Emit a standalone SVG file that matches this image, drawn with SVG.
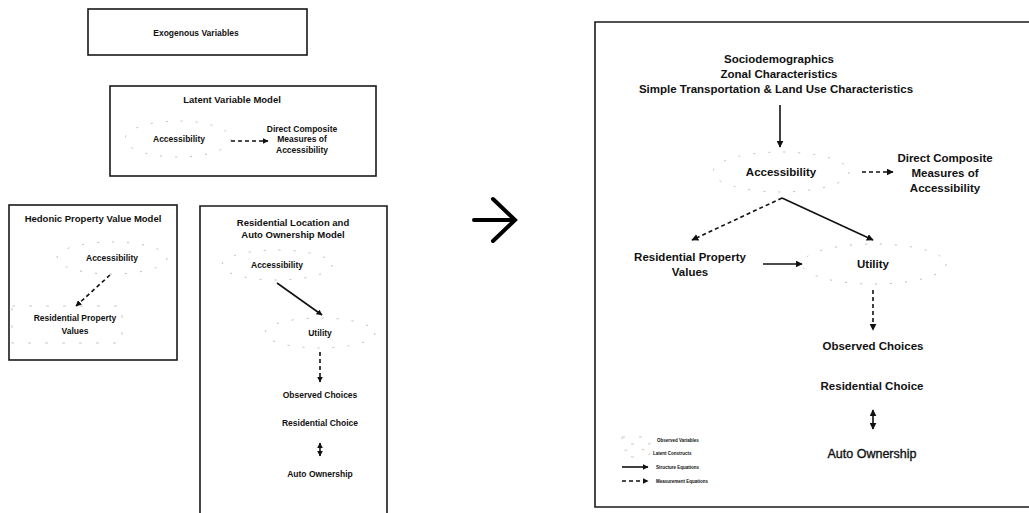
<svg xmlns="http://www.w3.org/2000/svg" width="1029" height="513" viewBox="0 0 1029 513">
<defs>
<style>
text{font-family:"Liberation Sans",Arial,sans-serif;font-weight:bold;fill:#111;text-anchor:middle}
.s{font-size:8.5px}
.t{font-size:9.5px}
.r{font-size:11.5px}
.lg{font-size:4.5px;text-anchor:start}
.box{fill:none;stroke:#1a1a1a;stroke-width:1.6}
.ell{fill:none;stroke:#aaa;stroke-width:0.8;stroke-dasharray:2 13}
.faint{fill:none;stroke:#bbb;stroke-width:0.8;stroke-dasharray:3 14}
.sol{fill:none;stroke:#111;stroke-width:1.6}
.dsh{fill:none;stroke:#111;stroke-width:1.6;stroke-dasharray:4 3}
.big{fill:none;stroke:#000;stroke-width:4;stroke-linecap:round;stroke-linejoin:miter}
</style>
<marker id="ah" viewBox="0 0 10 10" refX="9" refY="5" markerWidth="7" markerHeight="7" markerUnits="userSpaceOnUse" orient="auto-start-reverse">
<path d="M0,0 L10,5 L0,10 z" fill="#111"/>
</marker>
<marker id="ahs" viewBox="0 0 10 10" refX="9" refY="5" markerWidth="6" markerHeight="6" markerUnits="userSpaceOnUse" orient="auto-start-reverse">
<path d="M0,0 L10,5 L0,10 z" fill="#111"/>
</marker>
</defs>
<rect width="1029" height="513" fill="#fff"/>

<!-- Left panels -->
<g id="exogenous">
<rect class="box" x="88" y="9" width="219" height="46"/>
<text class="s" x="196" y="36">Exogenous Variables</text>
</g>

<g id="latent-model">
<rect class="box" x="110" y="86" width="266" height="90"/>
<text class="t" x="232" y="103">Latent Variable Model</text>
<g id="lv-accessibility">
<ellipse class="ell" cx="178" cy="139" rx="53" ry="18"/>
<text class="s" x="179" y="142">Accessibility</text>
</g>
<g id="lv-direct">
<text class="s" x="302" y="132">Direct Composite</text>
<text class="s" x="302" y="142">Measures of</text>
<text class="s" x="302" y="153">Accessibility</text>
</g>
</g>

<g id="hedonic-model">
<rect class="box" x="9" y="205" width="168" height="155"/>
<text class="t" x="93" y="222">Hedonic Property Value Model</text>
<g id="hp-accessibility">
<ellipse class="ell" cx="112" cy="258" rx="55" ry="16"/>
<text class="s" x="112" y="261">Accessibility</text>
</g>
<g id="hp-values">
<rect class="faint" x="12" y="306" width="110" height="37"/>
<text class="s" x="75" y="321">Residential Property</text>
<text class="s" x="75" y="334">Values</text>
</g>
</g>

<g id="resloc-model">
<path class="box" d="M200,520 L200,206 L387,206 L387,520"/>
<text class="t" x="293" y="226">Residential Location and</text>
<text class="t" x="293" y="238">Auto Ownership Model</text>
<g id="rl-accessibility">
<ellipse class="ell" cx="277" cy="265" rx="55" ry="15"/>
<text class="s" x="277" y="268">Accessibility</text>
</g>
<g id="rl-utility">
<ellipse class="ell" cx="320" cy="333" rx="55" ry="15"/>
<text class="s" x="320" y="336">Utility</text>
</g>
<g id="rl-observed"><text class="s" x="320" y="398">Observed Choices</text></g>
<g id="rl-residential"><text class="s" x="320" y="426">Residential Choice</text></g>
<g id="rl-auto"><text class="s" x="320" y="477">Auto Ownership</text></g>
</g>

<!-- Big transition arrow -->
<g id="transition-arrow">
<line class="big" x1="474" y1="220" x2="514" y2="220"/>
<polyline class="big" points="493,199 515,220 493,241"/>
</g>

<!-- Right panel -->
<g id="integrated-model">
<path class="box" d="M1035,22 L595,22 L595,507 L1035,507"/>
</g>
<g id="exog-vars">
<text class="r" x="779" y="63">Sociodemographics</text>
<text class="r" x="779" y="78">Zonal Characteristics</text>
<text class="r" x="776" y="93">Simple Transportation &amp; Land Use Characteristics</text>
</g>
<g id="accessibility">
<ellipse class="ell" cx="781" cy="172" rx="68" ry="20"/>
<text class="r" x="781" y="176">Accessibility</text>
</g>
<g id="direct-measures">
<text class="r" x="945" y="162">Direct Composite</text>
<text class="r" x="945" y="177">Measures of</text>
<text class="r" x="945" y="192">Accessibility</text>
</g>
<g id="property-values">
<text class="r" x="690" y="261">Residential Property</text>
<text class="r" x="690" y="276">Values</text>
</g>
<g id="utility">
<ellipse class="ell" cx="874" cy="264" rx="72" ry="20"/>
<text class="r" x="873" y="268">Utility</text>
</g>
<g id="observed-choices"><text class="r" x="873" y="350">Observed Choices</text></g>
<g id="residential-choice"><text class="r" x="872" y="390">Residential Choice</text></g>
<g id="auto-ownership"><text class="r" x="872" y="458" style="font-weight:normal;font-size:12.5px;stroke:#111;stroke-width:0.35">Auto Ownership</text></g>

<g id="legend">
<rect class="faint" x="622" y="437" width="28" height="7"/>
<ellipse class="faint" cx="636" cy="453" rx="14" ry="4"/>
<text class="lg" x="657" y="442">Observed Variables</text>
<text class="lg" x="653" y="455">Latent Constructs</text>
<line class="sol" x1="622" y1="467" x2="648" y2="467" marker-end="url(#ahs)"/>
<text class="lg" x="656" y="469">Structure Equations</text>
<line class="dsh" x1="622" y1="481" x2="648" y2="481" marker-end="url(#ahs)"/>
<text class="lg" x="656" y="483">Measurement Equations</text>
</g>

<!-- Connectors -->
<g id="connectors">
<line class="dsh" x1="231" y1="141" x2="268" y2="141" marker-end="url(#ahs)"/>
<line class="dsh" x1="110" y1="275" x2="76" y2="306" marker-end="url(#ahs)"/>
<line class="sol" x1="277" y1="283" x2="322" y2="315" marker-end="url(#ahs)"/>
<line class="dsh" x1="320" y1="352" x2="320" y2="382" marker-end="url(#ahs)"/>
<line class="sol" x1="320" y1="443" x2="320" y2="456" marker-start="url(#ahs)" marker-end="url(#ahs)"/>

<line class="sol" x1="780" y1="105" x2="780" y2="147" marker-end="url(#ah)"/>
<line class="dsh" x1="862" y1="172" x2="893" y2="172" marker-end="url(#ah)"/>
<polyline class="dsh" points="782,198 692,240" marker-end="url(#ah)"/>
<polyline class="sol" points="782,198 873,240" marker-end="url(#ah)"/>
<line class="sol" x1="763" y1="264" x2="802" y2="264" marker-end="url(#ah)"/>
<line class="dsh" x1="873" y1="290" x2="873" y2="330" marker-end="url(#ah)"/>
<line class="sol" x1="873" y1="410" x2="873" y2="429" marker-start="url(#ah)" marker-end="url(#ah)"/>
</g>
</svg>
